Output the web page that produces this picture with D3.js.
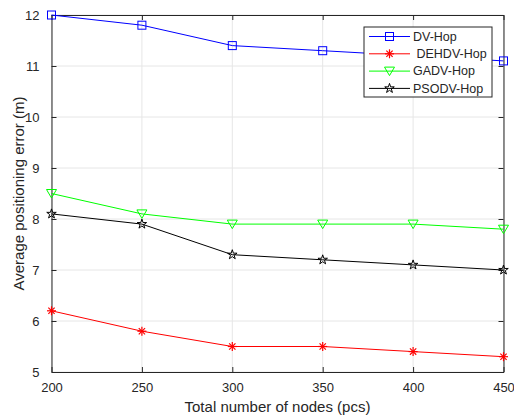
<!DOCTYPE html>
<html><head><meta charset="utf-8">
<script src="https://cdn.jsdelivr.net/npm/d3@7"></script>
<style>body{margin:0;background:#fff;} text{font-family:"Liberation Sans",Arial,sans-serif;fill:#262626;}</style>
</head><body>
<svg id="c" width="514" height="419"></svg>
<script>
const nodes = [200, 250, 300, 350, 400, 450];
const dvHop = [12.0, 11.8, 11.4, 11.3, 11.2, 11.1];
const dehdvHop = [6.2, 5.8, 5.5, 5.5, 5.4, 5.3];
const gadvHop = [8.5, 8.1, 7.9, 7.9, 7.9, 7.8];
const psodvHop = [8.1, 7.9, 7.3, 7.2, 7.1, 7.0];
const xTicks = [200, 250, 300, 350, 400, 450];
const yTicks = [5, 6, 7, 8, 9, 10, 11, 12];
const seriesNames = ["DV-Hop", " DEHDV-Hop", "GADV-Hop", "PSODV-Hop"];

const series = [
  {name: seriesNames[0], values: dvHop, color: "#0000ff", marker: "square"},
  {name: seriesNames[1], values: dehdvHop, color: "#ff0000", marker: "asterisk"},
  {name: seriesNames[2], values: gadvHop, color: "#00ff00", marker: "triangle"},
  {name: seriesNames[3], values: psodvHop, color: "#000000", marker: "star"}
];

const svg = d3.select("#c");
const L = 51.5, R = 503.5, T = 15, B = 372;
const x = d3.scaleLinear().domain([200, 450]).range([L, R]);
const y = d3.scaleLinear().domain([5, 12]).range([B, T]);

// grid
const g = svg.append("g");
g.selectAll(".gx").data(xTicks).enter().append("line")
  .attr("x1", d => x(d)).attr("x2", d => x(d)).attr("y1", T).attr("y2", B)
  .attr("stroke", "#e6e6e6").attr("stroke-width", 1);
g.selectAll(".gy").data(yTicks).enter().append("line")
  .attr("y1", d => y(d)).attr("y2", d => y(d)).attr("x1", L).attr("x2", R)
  .attr("stroke", "#e6e6e6").attr("stroke-width", 1);

// axes
const fmt = d3.format("d");
const xAxis = d3.axisBottom(x).tickValues(xTicks).tickFormat(fmt).tickSizeInner(-5).tickSizeOuter(0).tickPadding(11);
const yAxis = d3.axisLeft(y).tickValues(yTicks).tickFormat(fmt).tickSizeInner(-5).tickSizeOuter(0).tickPadding(12);
const xTop = d3.axisTop(x).tickValues(xTicks).tickSizeInner(-5).tickSizeOuter(0).tickFormat("");
const yRight = d3.axisRight(y).tickValues(yTicks).tickSizeInner(-5).tickSizeOuter(0).tickFormat("");

function style(sel){
  sel.selectAll("path").attr("stroke", "#262626").attr("stroke-width", 1);
  sel.selectAll("line").attr("stroke", "#262626");
  sel.selectAll("text").attr("font-size", 13).attr("fill", "#262626")
    .style("font-family", '"Liberation Sans", Arial, sans-serif');
}
svg.append("g").attr("transform", `translate(0,${B})`).call(xAxis).call(style);
svg.append("g").attr("transform", `translate(${L},0)`).call(yAxis).call(style);
svg.append("g").attr("transform", `translate(0,${T})`).call(xTop).call(style);
svg.append("g").attr("transform", `translate(${R},0)`).call(yRight).call(style);

// markers
function drawMarker(sel, type, color, cx, cy){
  if (type === "square") {
    sel.append("rect").attr("x", cx-4).attr("y", cy-4).attr("width", 8).attr("height", 8)
      .attr("fill", "none").attr("stroke", color).attr("stroke-width", 1);
  } else if (type === "asterisk") {
    const r = 4.5;
    [[0,-r,0,r],[-r,0,r,0],[-r*0.7,-r*0.7,r*0.7,r*0.7],[-r*0.7,r*0.7,r*0.7,-r*0.7]].forEach(a=>{
      sel.append("line").attr("x1", cx+a[0]).attr("y1", cy+a[1]).attr("x2", cx+a[2]).attr("y2", cy+a[3])
        .attr("stroke", color).attr("stroke-width", 1.2);
    });
  } else if (type === "triangle") {
    const s = 5;
    sel.append("path").attr("d", `M${cx-s},${cy-s*0.8}L${cx+s},${cy-s*0.8}L${cx},${cy+s*0.9}Z`)
      .attr("fill", "none").attr("stroke", color).attr("stroke-width", 1);
  } else if (type === "star") {
    sel.append("path").attr("d", d3.symbol().type(d3.symbolStar).size(28)())
      .attr("transform", `translate(${cx},${cy})`)
      .attr("fill", "none").attr("stroke", color).attr("stroke-width", 1);
  }
}

const line = d3.line().x((d,i) => x(nodes[i])).y(d => y(d));
series.forEach(s => {
  const sg = svg.append("g");
  sg.append("path").datum(s.values).attr("d", line)
    .attr("fill", "none").attr("stroke", s.color).attr("stroke-width", 1);
  s.values.forEach((v,i) => drawMarker(sg, s.marker, s.color, x(nodes[i]), y(v)));
});

// legend
const lx = 364, ly = 27, lw = 128, lh = 70;
const lg = svg.append("g");
lg.append("rect").attr("x", lx).attr("y", ly).attr("width", lw).attr("height", lh)
  .attr("fill", "#fff").attr("stroke", "#262626").attr("stroke-width", 1);
series.forEach((s,i) => {
  const yy = ly + 9.5 + i*17.3;
  lg.append("line").attr("x1", lx+5).attr("x2", lx+46).attr("y1", yy).attr("y2", yy)
    .attr("stroke", s.color).attr("stroke-width", 1);
  drawMarker(lg, s.marker, s.color, lx+25.5, yy);
  lg.append("text").attr("x", lx+49).attr("y", yy).attr("dy", "0.35em")
    .attr("font-size", 12.5).style("white-space", "pre").attr("xml:space", "preserve").text(s.name);
});

// axis labels
svg.append("text").attr("x", (L+R)/2).attr("y", 412).attr("text-anchor", "middle")
  .attr("font-size", 15).text("Total number of nodes (pcs)");
svg.append("text").attr("transform", `translate(24,${(T+B)/2}) rotate(-90)`).attr("text-anchor", "middle")
  .attr("font-size", 15).text("Average positioning error (m)");
</script>
</body></html>
